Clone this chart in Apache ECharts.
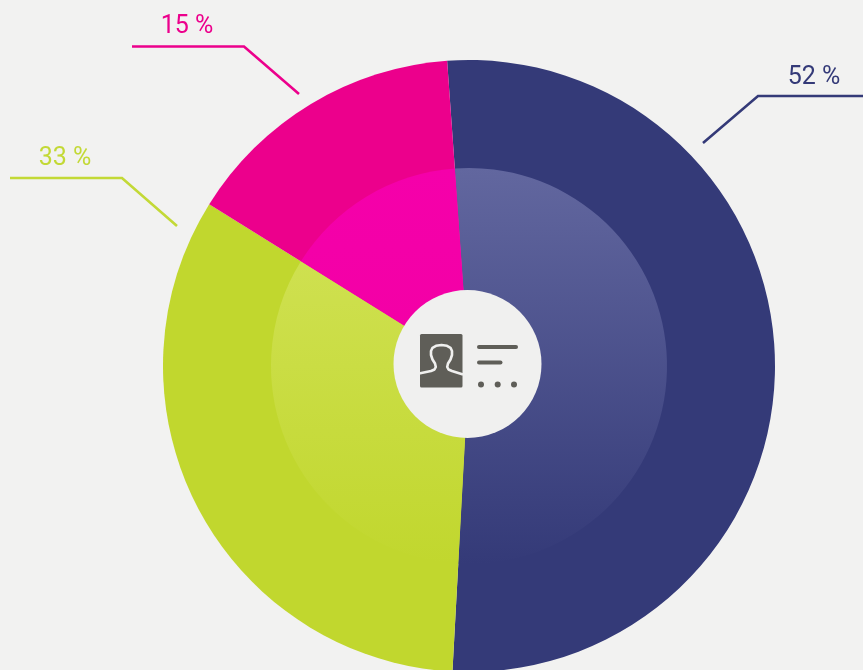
<!DOCTYPE html>
<html>
<head>
<meta charset="utf-8">
<style>html,body{margin:0;padding:0;background:#f2f2f1}#c{width:863px;height:670px}</style>
<script src="https://cdn.jsdelivr.net/npm/echarts@6/dist/echarts.min.js"></script>
</head>
<body>
<div id="c"></div>
<script>
const categories = ['Navy', 'Lime', 'Magenta'];
const values = [52, 33, 15];
const outerColors = ['#343a78', '#c1d72e', '#ec008c'];
const labelColors = ['#343a78', '#c3d936', '#ec008c'];

const cx = 469, cy = 366, rOuter = 306, rInner = 198, startAngle = 94.1;
const grad = (a, b) => ({
  type: 'linear', global: true, x: 0, y: cy - rInner, x2: 0, y2: cy + rInner,
  colorStops: [{offset: 0, color: a}, {offset: 1, color: b}]
});
const innerColors = [grad('#62679f', '#343a78'), grad('#d3e35a', '#c1d72e'), grad('#f500aa', '#f000a0')];

const callouts = [
  {x: 814, y: 78, pts: [[703, 143], [758, 96], [863, 96]]},
  {x: 65, y: 159, pts: [[177, 226], [122, 178], [10, 178]]},
  {x: 187, y: 27, pts: [[299, 94], [244, 46.5], [132, 46.5]]}
];

const personOutline = [[419, 373.5], [431, 371], [434.5, 369.5], [435.8, 367], [435, 363.5], [432.5, 359.5], [431, 355], [431, 351], [432.5, 347.8], [436, 345.8], [441.5, 345], [447, 345.8], [450.5, 347.8], [452, 351], [452, 355], [450.5, 359.5], [448, 363.5], [447.2, 367], [448.5, 369.5], [452, 371], [463, 374.5]];

const chart = echarts.init(document.getElementById('c'), null, {renderer: 'canvas'});
const ink = '#5f5e58', paper = '#f0f0ef';
chart.setOption({
  backgroundColor: '#f2f2f1',
  animation: false,
  series: [
    {
      type: 'pie', center: [cx, cy], radius: [0, rOuter], startAngle, clockwise: true,
      avoidLabelOverlap: false,
      data: categories.map((n, i) => ({
        name: n, value: values[i],
        itemStyle: {color: outerColors[i]},
        label: {color: labelColors[i]},
        labelLine: {lineStyle: {color: labelColors[i]}}
      })),
      label: {show: true, formatter: '{c} %', fontFamily: 'Roboto', fontWeight: 400, fontSize: 25},
      labelLine: {show: true, smooth: false, lineStyle: {width: 2.6}},
      labelLayout: p => {
        const c = callouts[p.dataIndex];
        return {x: c.x, y: c.y, align: 'center', verticalAlign: 'middle', labelLinePoints: c.pts};
      },
      emphasis: {disabled: true}
    },
    {
      type: 'pie', center: [cx, cy], radius: [0, rInner], startAngle, clockwise: true,
      label: {show: false}, labelLine: {show: false},
      data: categories.map((n, i) => ({name: n, value: values[i], itemStyle: {color: innerColors[i]}})),
      emphasis: {disabled: true}
    }
  ],
  graphic: [
    {type: 'circle', z: 10, shape: {cx: 467.5, cy: 364, r: 74}, style: {fill: paper}},
    {type: 'rect', z: 11, shape: {x: 420, y: 334, width: 42.5, height: 53.5, r: 1.5}, style: {fill: ink}},
    {type: 'polyline', z: 12, shape: {points: personOutline},
      style: {stroke: paper, fill: null, lineWidth: 2.6, lineJoin: 'round'}},
    {type: 'rect', z: 11, shape: {x: 477, y: 345, width: 41, height: 4, r: 2}, style: {fill: ink}},
    {type: 'rect', z: 11, shape: {x: 477, y: 360.5, width: 25.5, height: 4, r: 2}, style: {fill: ink}},
    {type: 'circle', z: 11, shape: {cx: 481, cy: 384.5, r: 3}, style: {fill: ink}},
    {type: 'circle', z: 11, shape: {cx: 497.7, cy: 384.5, r: 3}, style: {fill: ink}},
    {type: 'circle', z: 11, shape: {cx: 514, cy: 384.5, r: 3}, style: {fill: ink}}
  ]
});
</script>
</body>
</html>
